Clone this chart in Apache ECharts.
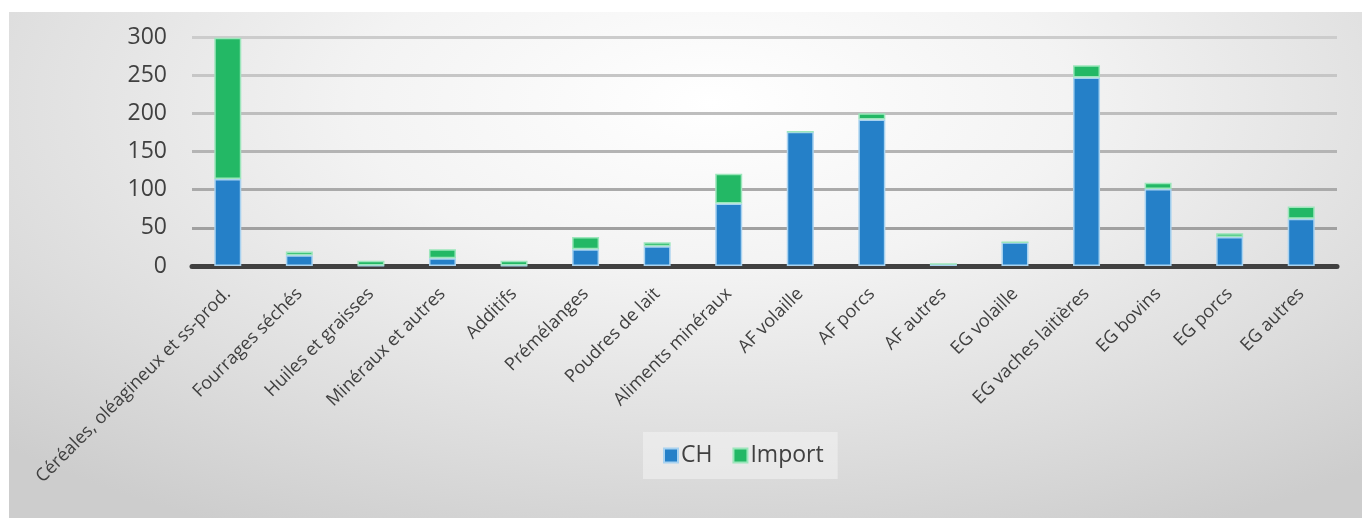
<!DOCTYPE html>
<html>
<head>
<meta charset="utf-8">
<script src="https://cdn.jsdelivr.net/npm/echarts@6/dist/echarts.min.js"></script>
<style>
html,body{margin:0;padding:0;width:1362px;height:518px;background:#fff;overflow:hidden;}
#bg{position:absolute;left:9px;top:12px;width:1353px;height:506px;
background:radial-gradient(ellipse 75% 95% at 52% 18%, #ffffff 0%, #f3f3f3 35%, #dcdcdc 75%, #cdcdcd 100%);}
#chart{position:absolute;left:0;top:0;width:1362px;height:518px;}
</style>
</head>
<body>
<div id="bg"></div>
<div id="chart"></div>
<script>
const categories = ['Céréales, oléagineux et ss-prod.', 'Fourrages séchés', 'Huiles et graisses', 'Minéraux et autres', 'Additifs', 'Prémélanges', 'Poudres de lait', 'Aliments minéraux', 'AF volaille', 'AF porcs', 'AF autres', 'EG volaille', 'EG vaches laitières', 'EG bovins', 'EG porcs', 'EG autres'];
const chValues = [114, 14, 0.5, 10, 0.5, 22, 26, 82, 176, 192, 2.5, 31, 247, 101, 38, 62];
const importValues = [185, 5, 6.5, 12, 6.5, 16, 5, 39, 0, 8, 0, 0, 16, 8, 5, 16];
const seriesNames = ['CH', 'Import'];
const yTicks = {min: 0, max: 300, interval: 50};

const chart = echarts.init(document.getElementById('chart'), null, {renderer: 'canvas'});
const font = '"Open Sans", "Noto Sans", sans-serif';
chart.setOption({
  backgroundColor: 'transparent',
  animation: false,
  textStyle: {fontFamily: font, color: '#404040'},
  grid: {left: 192, right: 25, top: 37, bottom: 252, outerBoundsMode: 'none', containLabel: false},
  legend: {
    data: seriesNames,
    left: 643, top: 432,
    padding: [12, 14, 12, 20],
    backgroundColor: 'rgba(245,245,245,0.5)',
    itemWidth: 14, itemHeight: 14, itemGap: 20,
    textStyle: {fontSize: 23, color: '#404040', fontFamily: font, padding: [0,0,0,-2]},
    icon: 'rect'
  },
  xAxis: {
    type: 'category',
    data: categories,
    axisLine: {show: true, lineStyle: {color: '#404040', width: 5}},
    axisTick: {show: false},
    axisLabel: {rotate: 45, interval: 0, fontSize: 18, color: '#404040', margin: 25, fontFamily: font}
  },
  yAxis: {
    type: 'value',
    min: yTicks.min, max: yTicks.max, interval: yTicks.interval,
    axisLine: {show: false},
    axisTick: {show: false},
    axisLabel: {fontSize: 23, color: '#404040', margin: 25, fontFamily: font},
    splitLine: {show: true, lineStyle: {width: 3, color: ['#9a9a9a', '#a0a0a0', '#aaaaaa', '#b4b4b4', '#bebebe', '#c6c6c6', '#cccccc']}}
  },
  series: [
    {
      name: seriesNames[0], type: 'bar', stack: 'total', data: chValues,
      barWidth: 27,
      itemStyle: {color: '#2580c8', borderColor: '#a8d2f0', borderWidth: 1.5}
    },
    {
      name: seriesNames[1], type: 'bar', stack: 'total', data: importValues,
      barWidth: 27,
      itemStyle: {color: '#23b865', borderColor: '#9ce6bb', borderWidth: 1.5}
    }
  ]
});
</script>
</body>
</html>
